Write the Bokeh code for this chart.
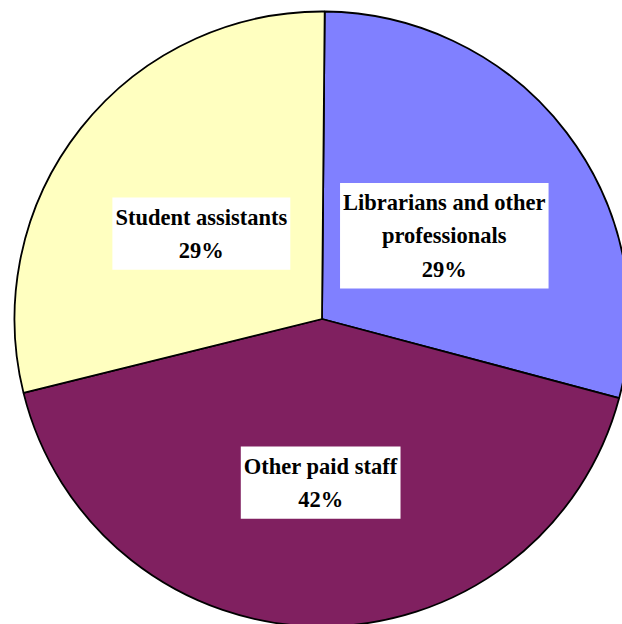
import math
from bokeh.plotting import figure
from bokeh.models import Range1d, Label
from bokeh.embed import file_html
from bokeh.resources import INLINE

categories = ["Librarians and other\nprofessionals", "Other paid staff", "Student assistants"]
percents = [29, 42, 29]
colors = ["#8080FF", "#802060", "#FFFFC0"]

R = 307.5
W, H = 622, 624
CX, CY = 321.5, 318.5
p = figure(width=W, height=H, output_backend="svg", toolbar_location=None,
           x_range=Range1d(-CX, W - CX), y_range=Range1d(CY - H, CY),
           min_border=0)
p.axis.visible = False
p.grid.visible = False
p.outline_line_color = None
p.background_fill_color = "white"

total = sum(percents)
start = math.pi / 2 - math.radians(0.5)
for cat, pct, col in zip(categories, percents, colors):
    sweep = 2 * math.pi * pct / total
    end = start - sweep
    p.wedge(x=0, y=0, radius=R, start_angle=end, end_angle=start,
            fill_color=col, line_color="black", line_width=1.8)
    mid = (start + end) / 2
    lr = R * 0.5
    p.add_layout(Label(x=lr * math.cos(mid), y=lr * math.sin(mid) - 10,
                       text=f"{cat}\n{pct}%", text_align="center", text_baseline="middle",
                       text_font="'Liberation Serif', 'Times New Roman', serif",
                       text_font_style="bold",
                       text_font_size="22.5px", text_line_height=1.33, text_color="black",
                       background_fill_color="white",
                       padding=dict(left=3, right=3, top=7, bottom=7)))
    start = end

open("out.html", "w").write(file_html(p, INLINE))
